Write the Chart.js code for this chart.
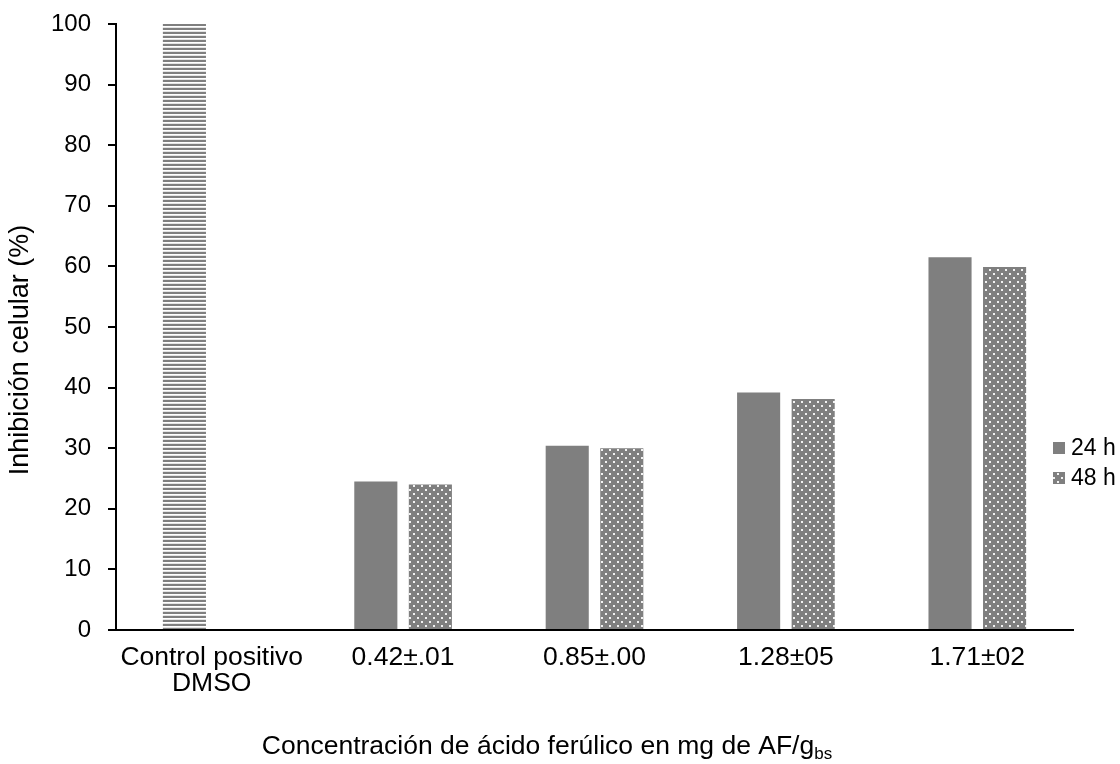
<!DOCTYPE html>
<html>
<head>
<meta charset="utf-8">
<script src="https://cdn.jsdelivr.net/npm/chart.js@4.4.1/dist/chart.umd.min.js"></script>
<style>
  html, body { margin: 0; padding: 0; background: #ffffff; }
  #wrap { width: 1120px; height: 764px; }
</style>
</head>
<body>
<div id="wrap"><canvas id="c" width="1120" height="764"></canvas></div>
<script>
// ---- data ----
const categories = [["Control positivo", "DMSO"], "0.42±.01", "0.85±.00", "1.28±05", "1.71±02"];
const controlLabel = "Control positivo DMSO";
const controlValues = [100, null, null, null, null];
const seriesNames = ["24 h", "48 h"];
const values24h = [null, 24.5, 30.4, 39.2, 61.5];
const values48h = [null, 24.0, 30.0, 38.1, 59.9];
const yTickMin = 0;
const yTickMax = 100;
const yTickStep = 10;
const yTitle = "Inhibición celular (%)";
const xTitleMain = "Concentración de ácido ferúlico en mg de AF/g";
const xTitleSub = "bs";

// ---- styling ----
const FONT = '"Liberation Sans", Arial, Helvetica, sans-serif';
const GREY = '#7f7f7f';
const canvas = document.getElementById('c');
const ctx = canvas.getContext('2d');

function stripePattern() {
  const t = document.createElement('canvas');
  t.width = 4; t.height = 4;
  const g = t.getContext('2d');
  g.fillStyle = '#ffffff'; g.fillRect(0, 0, 4, 4);
  g.fillStyle = GREY; g.fillRect(0, 0, 4, 2);
  g.fillStyle = '#e4e4e4'; g.fillRect(0, 3, 4, 1);
  return ctx.createPattern(t, 'repeat');
}

function dotPattern() {
  const t = document.createElement('canvas');
  t.width = 8; t.height = 8;
  const g = t.getContext('2d');
  g.fillStyle = GREY; g.fillRect(0, 0, 8, 8);
  g.fillStyle = '#f2f2f2';
  g.fillRect(1, 1, 2, 2);
  g.fillRect(5, 5, 2, 2);
  return ctx.createPattern(t, 'repeat');
}

const stripes = stripePattern();
const dots = dotPattern();

// legend on the right, listing the two time series
const sideLegend = {
  id: 'sideLegend',
  afterDraw(chart) {
    const c = chart.ctx;
    const items = chart.data.datasets.filter(d => seriesNames.includes(d.label));
    c.save();
    items.forEach((d, i) => {
      const yc = 448 + i * 30;
      c.fillStyle = d.backgroundColor;
      c.fillRect(1053, yc - 6, 12, 12);
      c.fillStyle = '#000';
      c.font = '23px ' + FONT;
      c.textAlign = 'left';
      c.textBaseline = 'middle';
      c.fillText(d.label, 1071, yc + 1);
    });
    c.restore();
  }
};

// axis titles (x title carries a subscript)
const axisTitles = {
  id: 'axisTitles',
  afterDraw(chart) {
    const c = chart.ctx;
    c.save();
    c.fillStyle = '#000';

    // y title, rotated
    c.save();
    c.translate(21, 350);
    c.rotate(-Math.PI / 2);
    c.font = '27px ' + FONT;
    c.textAlign = 'center';
    c.textBaseline = 'middle';
    c.fillText(yTitle, 0, 0);
    c.restore();

    // x title
    const mainFont = '26.5px ' + FONT;
    const subFont = '17px ' + FONT;
    c.font = mainFont;
    const w1 = c.measureText(xTitleMain).width;
    c.font = subFont;
    const w2 = c.measureText(xTitleSub).width;
    const x0 = 547 - (w1 + w2) / 2;
    c.textAlign = 'left';
    c.textBaseline = 'alphabetic';
    c.font = mainFont;
    c.fillText(xTitleMain, x0, 754);
    c.font = subFont;
    c.fillText(xTitleSub, x0 + w1, 759);
    c.restore();
  }
};

new Chart(canvas, {
  type: 'bar',
  data: {
    labels: categories,
    datasets: [
      { label: controlLabel, data: controlValues, backgroundColor: stripes, stack: 'a' },
      { label: seriesNames[0], data: values24h, backgroundColor: GREY, stack: 'a' },
      { label: seriesNames[1], data: values48h, backgroundColor: dots, stack: 'b' }
    ]
  },
  options: {
    responsive: false,
    animation: false,
    devicePixelRatio: 1,
    layout: { padding: { top: 24, right: 47, left: 0, bottom: 0 } },
    datasets: { bar: { categoryPercentage: 0.57, barPercentage: 0.79 } },
    plugins: {
      legend: { display: false },
      tooltip: { enabled: false }
    },
    scales: {
      x: {
        grid: { display: true, drawOnChartArea: false, drawTicks: false },
        border: { display: true, color: '#000', width: 2 },
        ticks: {
          color: '#000',
          font: { family: FONT, size: 26.5, lineHeight: 0.98 },
          padding: 15,
          maxRotation: 0,
          autoSkip: false
        },
        afterFit(scale) { scale.height = 134; }
      },
      y: {
        min: yTickMin,
        max: yTickMax,
        grid: { display: true, drawOnChartArea: false, drawTicks: true, tickLength: 8, color: '#000', lineWidth: 2 },
        border: { display: true, color: '#000', width: 2 },
        ticks: {
          stepSize: yTickStep,
          color: '#000',
          font: { family: FONT, size: 24 },
          padding: 17
        },
        afterFit(scale) {
          scale.width = 116;
          scale.paddingTop = 0;
          scale.paddingBottom = 0;
        }
      }
    }
  },
  plugins: [sideLegend, axisTitles]
});
</script>
</body>
</html>
